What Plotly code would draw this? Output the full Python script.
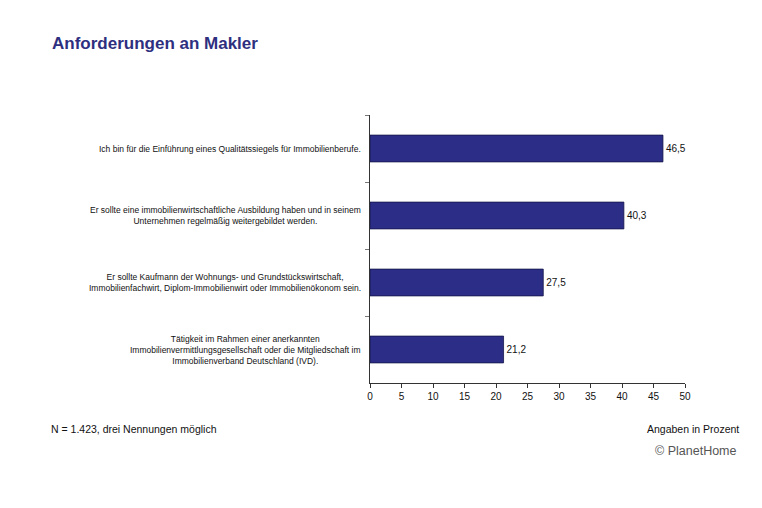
import plotly.graph_objects as go

categories = [
    "Ich bin für die Einführung eines Qualitätssiegels für Immobilienberufe.",
    "Er sollte eine immobilienwirtschaftliche Ausbildung haben und in seinem<br>Unternehmen regelmäßig weitergebildet werden.",
    "Er sollte Kaufmann der Wohnungs- und Grundstückswirtschaft,<br>Immobilienfachwirt, Diplom-Immobilienwirt oder Immobilienökonom sein.",
    "Tätigkeit im Rahmen einer anerkannten<br>Immobilienvermittlungsgesellschaft oder die Mitgliedschaft im<br>Immobilienverband Deutschland (IVD).",
]
values = [46.5, 40.3, 27.5, 21.2]
x_ticks = [0, 5, 10, 15, 20, 25, 30, 35, 40, 45, 50]

labels = [f"{v:.1f}".replace(".", ",") for v in values]
keys = [f"c{i}" for i in range(len(categories))]

FONT = "Liberation Sans, Arial, sans-serif"
NAVY = "#2b2d86"

W, H = 762, 508
L, R, T, B = 370, 77, 115, 125
PW, PH = W - L - R, H - T - B


def px(x):
    return (x - L) / PW


def py(y):
    return (H - B - y) / PH


fig = go.Figure(go.Bar(
    y=keys, x=values, orientation="h",
    marker=dict(color=NAVY, line=dict(color="#15164a", width=0.8)),
    width=0.4,
    text=labels, textposition="outside",
    textfont=dict(family=FONT, size=10, color="#111"),
    cliponaxis=False,
))

for k, c in zip(keys, categories):
    fig.add_annotation(x=0, xref="paper", y=k, yref="y", text=c,
                       xanchor="right", yanchor="middle", align="center",
                       xshift=-7, showarrow=False,
                       font=dict(family=FONT, size=8.5, color="#111"))

fig.update_layout(
    width=W, height=H,
    margin=dict(l=L, r=R, t=T, b=B),
    paper_bgcolor="white", plot_bgcolor="white",
    showlegend=False,
    title=dict(text="<b>Anforderungen an Makler</b>", x=52/W, xanchor="left",
               y=1-43/H, yanchor="middle",
               font=dict(family=FONT, size=17, color="#2e2f7f")),
    xaxis=dict(range=[0, 50], tickvals=x_ticks, ticks="outside", ticklen=4,
               tickcolor="#333", showline=True, linecolor="#333", linewidth=1,
               showgrid=False, zeroline=False,
               tickfont=dict(family=FONT, size=10, color="#111")),
    yaxis=dict(categoryorder="array", categoryarray=keys, autorange="reversed",
               showticklabels=False, ticks="outside", ticklen=4, tickcolor="#777",
               tickson="boundaries", showline=True, linecolor="#333", linewidth=1,
               showgrid=False),
)

fig.add_annotation(x=px(49), xref="paper", y=py(429), yref="paper", yanchor="middle",
                   xanchor="left", showarrow=False, text="N = 1.423, drei Nennungen möglich",
                   font=dict(family=FONT, size=10.5, color="#111"))
fig.add_annotation(x=px(741), xref="paper", y=py(429), yref="paper", yanchor="middle",
                   xanchor="right", showarrow=False, text="Angaben in Prozent",
                   font=dict(family=FONT, size=10.5, color="#111"))
fig.add_annotation(x=px(739), xref="paper", y=py(451), yref="paper", yanchor="middle",
                   xanchor="right", showarrow=False, text="© PlanetHome",
                   font=dict(family=FONT, size=12.5, color="#555"))

fig.write_html("out.html")
